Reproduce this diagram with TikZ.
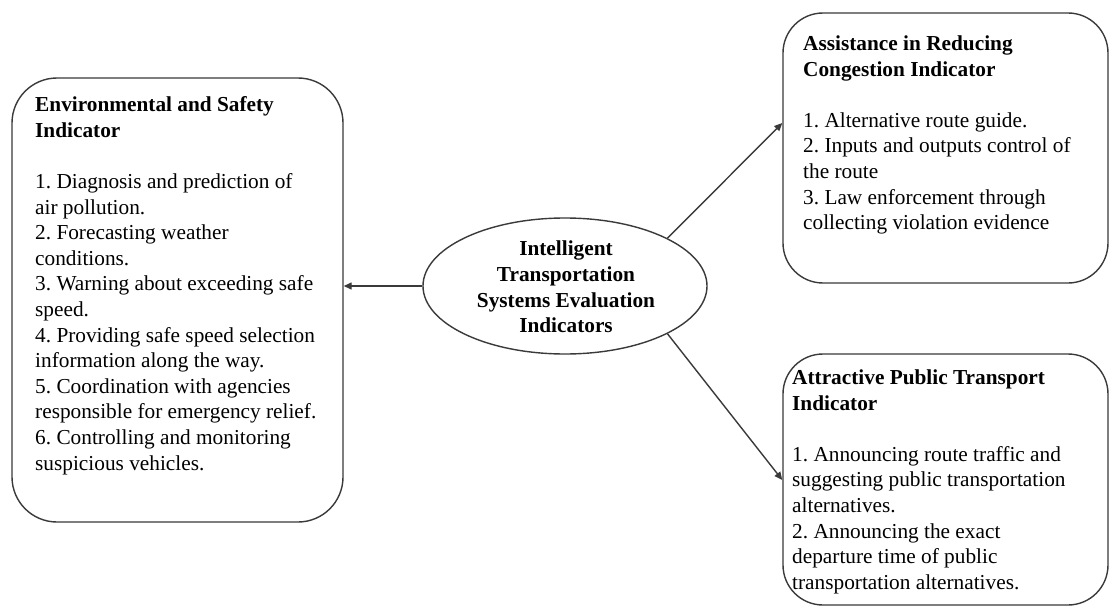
\documentclass[tikz,border=0pt]{standalone}
\usepackage{fontspec}
\setmainfont{Liberation Serif}
\usetikzlibrary{arrows.meta,shapes.geometric}
\definecolor{edge}{HTML}{3A3A3A}
\frenchspacing
\begin{document}
\begin{tikzpicture}[x=1pt,y=-1pt,
  box/.style={draw=edge, line width=1.4pt, rounded corners=#1, inner sep=0pt, fill=none},
  txt/.style={anchor=north west, inner sep=0pt, align=left, font=\fontsize{21.3}{25.6}\selectfont\frenchspacing, text=black},
  ctxt/.style={inner sep=0pt, align=center, font=\fontsize{21.3}{25.6}\selectfont\bfseries, text=black},
  arr/.style={draw=edge, line width=1.4pt, -{Triangle[length=8pt,width=7pt]}}]
\useasboundingbox (0,0) rectangle (1111,607);
\fill[white] (0,0) rectangle (1111,607);

% boxes
\node[box=45pt, minimum width=331pt, minimum height=444pt] (env) at (177.5,300) {};
\node[box=40pt, minimum width=325pt, minimum height=270pt] (cong) at (945.5,148) {};
\node[box=40pt, minimum width=325pt, minimum height=251pt] (pub) at (945.5,479.5) {};
\node[draw=edge, line width=1.4pt, ellipse, inner sep=0pt, minimum width=284pt, minimum height=136pt] (core) at (565,286) {};

% texts
\node[txt] (envT) at (35,96.5) {\textbf{Environmental and Safety}\\\textbf{Indicator}\\[25.6pt]
1. Diagnosis and prediction of\\
air pollution.\\
2. Forecasting weather\\
conditions.\\
3. Warning about exceeding safe\\
speed.\\
4. Providing safe speed selection\\
information along the way.\\
5. Coordination with agencies\\
responsible for emergency relief.\\
6. Controlling and monitoring\\
suspicious vehicles.};

\node[txt] (congT) at (803,35.6) {\textbf{Assistance in Reducing}\\\textbf{Congestion Indicator}\\[25.6pt]
1. Alternative route guide.\\
2. Inputs and outputs control of\\
the route\\
3. Law enforcement through\\
collecting violation evidence};

\node[txt] (pubT) at (792,369.6) {\textbf{Attractive Public Transport}\\\textbf{Indicator}\\[25.6pt]
1. Announcing route traffic and\\
suggesting public transportation\\
alternatives.\\
2. Announcing the exact\\
departure time of public\\
transportation alternatives.};

\node[ctxt] (coreT) at (566,287) {Intelligent\\Transportation\\Systems Evaluation\\Indicators};

% connectors
\coordinate (congIn) at (783,123);
\coordinate (pubIn) at (783,480);
\draw[arr] (core.west) -- (core.west -| env.east);
\draw[arr] (core.25) -- (cong.west |- congIn);
\draw[arr] (core.-25) -- (pub.west |- pubIn);
\end{tikzpicture}
\end{document}
